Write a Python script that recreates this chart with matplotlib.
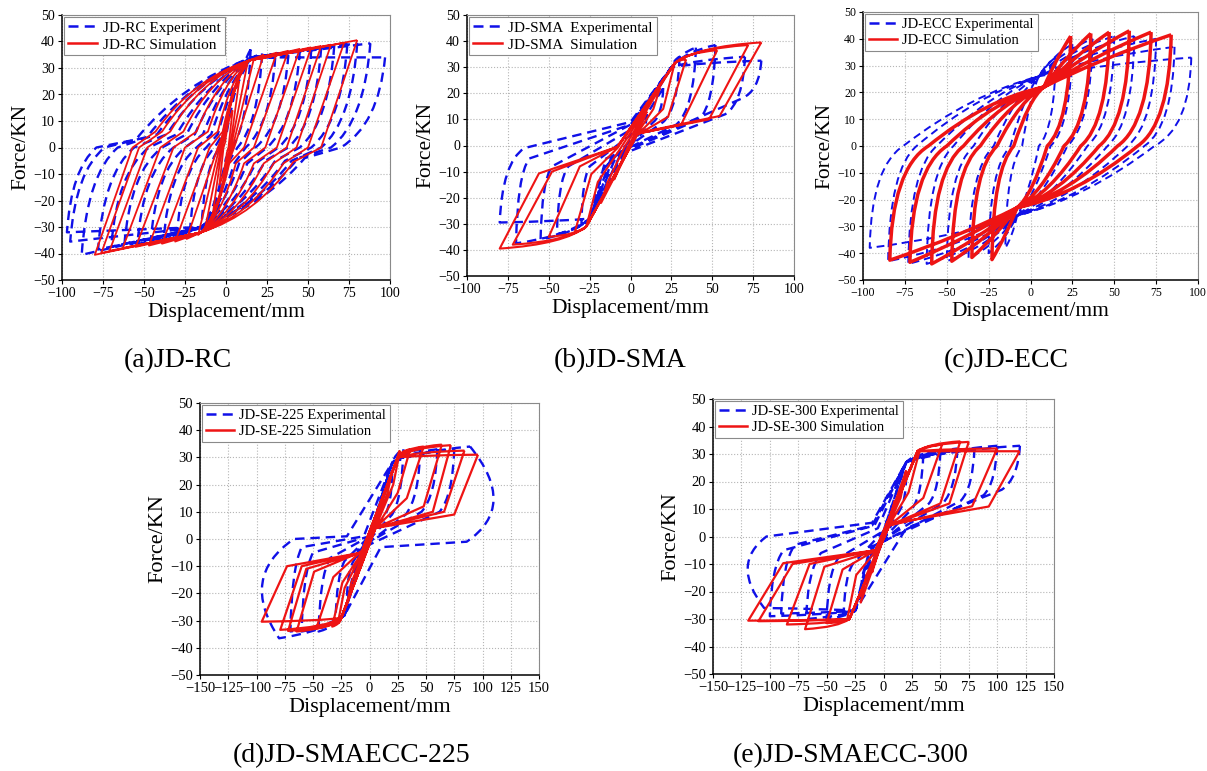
import numpy as np
import matplotlib
matplotlib.use("Agg")
import matplotlib.pyplot as plt
from matplotlib.path import Path
from matplotlib.patches import PathPatch
from matplotlib.lines import Line2D

plt.rcParams['font.family'] = ['Liberation Serif', 'DejaVu Serif']

# Each cycle half: (peak disp, peak force, unload end x, y, pinch knee x, y[, tip ctrl x, y])
# (a) JD-RC
A_EXP_POS = [(15, 37, 4, 0, 0, -4), (22, 35.5, 7, 0, 2, -5), (30, 34, 12, 0, 5, -6),
             (38, 35, 18, 0, 8, -6), (45, 36.5, 25, 0, 13, -6), (52, 37, 32, 0, 18, -6),
             (58, 37.5, 38, 0, 24, -5), (66, 38.5, 45, 0, 30, -5), (74, 39, 52, 0, 36, -5),
             (80, 39.3, 58, 0, 40, -5), (88, 39.3, 64, 0, 44, -4), (97, 34, 70, 0, 48, -4)]
A_EXP_NEG = [(-15, -31, -4, 0, 0, 4), (-22, -32, -7, 0, -2, 5), (-30, -33.5, -12, 0, -5, 5),
             (-38, -35, -18, 0, -9, 5), (-46, -36, -25, 0, -14, 5), (-54, -36.5, -32, 0, -19, 5),
             (-62, -37, -39, 0, -24, 5), (-70, -37.5, -47, 0, -30, 5), (-78, -38.5, -56, 0, -36, 5),
             (-88, -40.5, -66, 0, -42, 5), (-95, -35.5, -74, 0, -48, 4), (-97, -32, -79, 0, -55, 3)]
A_EXP_JOIN = ((16, 34), (-15, -30))
A_SIM_POS = [(4, 14, 1.5, 0, 0.5, -2), (8, 25, 2.5, 0, 1, -4), (13, 31.5, 3, 0, 1, -6),
             (17, 33.5, 4, 0, 1, -7), (23, 35, 5, 0, 0, -8), (31, 35.8, 11, 0, 2, -6),
             (38, 36.5, 17, 0, 6, -6), (45, 37.2, 24, 0, 11, -6), (52, 37.8, 31, 0, 17, -6),
             (58, 38.3, 37, 0, 23, -6), (64, 38.8, 43, 0, 29, -6), (72, 39.5, 50, 0, 35, -6),
             (80, 40.5, 58, 0, 41, -5.5)]
A_SIM_NEG = [(-4, -14, -1.5, 0, -0.5, 2), (-8, -25, -2.5, 0, -1, 4), (-13, -31.5, -3, 0, -1, 6),
             (-17, -33, -4, 0, -1, 7), (-24, -34.5, -5, 0, 0, 8), (-31, -35.5, -10, 0, -2, 6),
             (-39, -36.3, -17, 0, -5, 6), (-47, -37, -25, 0, -11, 6), (-55, -37.5, -32, 0, -18, 6),
             (-63, -38, -40, 0, -26, 6), (-71, -39, -48, 0, -34, 6), (-76, -39.8, -53, 0, -39, 6),
             (-80, -40.5, -57, 0, -43, 6)]
A_SIM_JOIN = ((14, 32.8), (-15, -32))

# (b) JD-SMA
B_EXP_POS = [(10, 12, 7, 6, 0, 0), (20, 22, 14, 9, -2, -1), (30, 34, 20, 9, -5, -2),
             (40, 37.5, 28, 8, -8, -3), (52, 38.5, 42, 10, -10, -4), (70, 34, 58, 12, -12, -5),
             (80, 32.5, 68, 18, -15, -5)]
B_EXP_NEG = [(-10, -12, -7, -6, 0, 0), (-20, -22, -15, -8, 0, 2), (-30, -30, -25, -8, 0, 4),
             (-45, -34, -38, -8, 0, 6), (-55, -36, -48, -8, 0, 8), (-70, -37.5, -62, -5, 0, 8),
             (-80, -29.5, -65, -1, 0, 9)]
B_EXP_JOIN = ((25, 30), (-25, -28))
B_SIM_POS = [(10, 13, 8, 10, 2, 3), (18, 22, 14, 14, 3, 3.5), (27, 31.5, 20, 14, 4, 4),
             (34, 33, 23, 11, 4, 4), (53, 36.5, 31, 8, 4, 4.5), (72, 38.5, 48, 10, 4, 4.5),
             (80, 39.5, 54.5, 11.3, 4, 4.7)]
B_SIM_NEG = [(-10, -13, -8, -10, -2, -1), (-18, -22, -14, -14, -4, -1), (-27, -31, -20, -14, -6, -1),
             (-34, -33, -24, -11, -8, -1), (-50, -35, -31, -8, -8, -0.5), (-72, -38, -48, -10, -8, -0.5),
             (-80, -39.5, -56, -10.7, -8, -0.5)]
B_SIM_JOIN = ((27, 31.5), (-27, -31))

# (c) JD-ECC
C_EXP_POS = [(15, 33, 5, 0, 5, 0), (25, 38, 12, 0, 12, 0), (37, 40, 22, 0, 22, 0),
             (50, 41, 34, 0, 34, 0), (62, 41, 46, 0, 46, 0), (75, 40, 58, 0, 58, 0),
             (86, 37, 68, 0, 68, 0), (96, 33, 74, 0, 74, 0)]
C_EXP_NEG = [(-15, -38, -5, 0, -5, 0), (-25, -40, -12, 0, -12, 0), (-37, -42, -22, 0, -22, 0),
             (-50, -43, -34, 0, -34, 0), (-62, -44, -46, 0, -46, 0), (-73, -44, -56, 0, -56, 0),
             (-85, -43, -68, 0, -68, 0), (-96, -38, -76, 0, -76, 0)]
C_EXP_JOIN = ((5, 26), (-8, -26))
C_SIM_POS = [(24, 41, 10, 0, 10, 0), (36, 42, 20, 0, 20, 0), (47, 42.5, 30, 0, 30, 0),
             (59, 43, 41, 0, 41, 0), (72, 42.5, 52, 0, 52, 0), (84, 41.5, 64, 0, 64, 0)]
C_SIM_NEG = [(-23, -42.4, -10, 0, -10, 0), (-35, -41.6, -20, 0, -20, 0), (-47, -43, -30, 0, -30, 0),
             (-59, -44, -40, 0, -40, 0), (-72, -43.4, -50, 0, -50, 0), (-84, -42.6, -61, 0, -61, 0)]
C_SIM_JOIN = ((8, 22), (-8, -23))

# (d) JD-SMAECC-225
D_EXP_POS = [(10, 12, 7, 6, 0, 0), (20, 24, 14, 9, -2, -1), (30, 33, 20, 9, -4, -2),
             (45, 33, 32, 9, -6, -3), (60, 33, 46, 10, -8, -3), (75, 33, 62, 10, -10, -4),
             (89, 34, 86, -1, 10, -3, 132, 12)]
D_EXP_NEG = [(-10, -12, -7, -6, 0, 0), (-20, -22, -14, -8, 0, 1), (-30, -30, -22, -8, 0, 1),
             (-45, -34, -35, -7, 0, 1), (-60, -34, -50, -5, 0, 1), (-70, -34, -60, -3, -5, 1),
             (-80, -36.5, -67, 0, -20, 1, -116, -14)]
D_EXP_JOIN = ((20, 28), (-22, -28))
D_SIM_POS = [(12, 15, 10, 11, 2, 3), (20, 25, 16, 17, 3, 3), (27, 32.5, 21, 20, 4, 3),
             (36, 33, 25, 17, 5, 3.5), (48, 34, 33, 15, 5, 4), (64, 34.7, 48, 12, 5, 4),
             (72, 34.5, 56, 10, 5, 4), (84, 32.5, 66, 10, 5, 4), (96, 31, 75, 9, 5, 4)]
D_SIM_NEG = [(-12, -15, -10, -11, -2, -3), (-20, -24, -16, -16, -3, -3), (-28, -31, -22, -18, -4, -3),
             (-33, -32.2, -24, -16, -5, -4), (-47, -32.8, -32, -14, -6, -4), (-64.5, -34, -49, -12, -6, -4.5),
             (-72, -33.8, -56, -11, -7, -5), (-79, -33.4, -60, -10, -7, -5), (-95.4, -30.4, -73, -10, -7, -5)]
D_SIM_JOIN = ((25, 30), (-25, -29))

# (e) JD-SMAECC-300
E_EXP_POS = [(10, 12, 7, 7, 0, 0), (20, 22, 15, 10, 0, -1), (35, 30, 25, 10, -3, -2),
             (50, 31, 40, 12, -5, -3), (65, 32, 52, 12, -8, -3), (80, 32, 68, 13, -10, -4),
             (100, 33, 88, 15, -12, -4), (120, 33, 104, 17, 20, 3)]
E_EXP_NEG = [(-10, -12, -7, -7, 0, 0), (-20, -22, -15, -10, 0, 1), (-35, -28, -27, -10, 0, 2),
             (-50, -30, -40, -8, 0, 2), (-68, -30, -55, -6, -5, 3), (-90, -28, -78, -3, -10, 4),
             (-100, -29, -88, -5, -8, 4), (-105, -26, -103, 0, -10, 5, -135, -10)]
E_EXP_JOIN = ((20, 27), (-25, -27))
E_SIM_POS = [(10, 13, 8, 9, 2, 3), (20, 24, 15, 14, 3, 3), (32, 31.6, 22, 16, 4, 3.5),
             (51.5, 33.4, 35, 14, 5, 4), (67.6, 34.6, 50, 12, 5, 4), (75, 34.4, 58, 12, 5, 4),
             (100, 32, 78, 11, 5, 4), (119.7, 31, 92.6, 10.9, 5, 4.5)]
E_SIM_NEG = [(-10, -13, -8, -9, -2, -3), (-20, -24, -15, -14, -3, -3), (-32, -30.3, -24, -14, -4, -4),
             (-50, -31.5, -36, -12, -5, -4.5), (-69, -33.7, -52, -11, -6, -5), (-85, -32, -65, -10, -7, -5),
             (-110, -30.8, -80, -10, -7, -5), (-119, -30.6, -88.2, -9.7, -7, -5)]
E_SIM_JOIN = ((30, 31), (-30, -30))

NAMES = ['JD-RC', 'JD-SMA', 'JD-ECC', 'JD-SE-225', 'JD-SE-300']
EXP_WORD = [' Experiment', '  Experimental', ' Experimental', ' Experimental', ' Experimental']
SIM_WORD = [' Simulation', '  Simulation', ' Simulation', ' Simulation', ' Simulation']
CAPTIONS = ['(a)JD-RC', '(b)JD-SMA', '(c)JD-ECC', '(d)JD-SMAECC-225', '(e)JD-SMAECC-300']

BLUE = '#1010e8'
RED = '#ee1414'
W, H = 1207, 771


def ctrl(p, q, bow):
    return (p[0] * bow[0] + q[0] * (1 - bow[0]), p[1] * bow[1] + q[1] * (1 - bow[1]))


def add_half(verts, codes, row, join, target, bows):
    peak = (row[0], row[1])
    unl = (row[2], row[3])
    knee = (row[4], row[5])
    tip = (row[6], row[7]) if len(row) > 6 else ctrl(peak, unl, bows[0])
    verts += [tip, unl]
    codes += [Path.CURVE3, Path.CURVE3]
    verts.append(knee)
    codes.append(Path.LINETO)
    if abs(target[0]) > abs(join[0]):
        verts += [ctrl(knee, join, bows[1]), join, ctrl(join, target, bows[2]), target]
        codes += [Path.CURVE3] * 4
    else:
        verts += [ctrl(knee, target, bows[1]), target]
        codes += [Path.CURVE3] * 2


def loop_path(pos, neg, joins, bows):
    jp, jn = joins
    verts, codes = [], []
    for p_row, n_row in zip(pos, neg):
        peak = (p_row[0], p_row[1])
        verts.append(peak)
        codes.append(Path.MOVETO)
        add_half(verts, codes, p_row, jn, (n_row[0], n_row[1]), bows)
        add_half(verts, codes, n_row, jp, peak, bows)
    return Path(verts, codes)


STRAIGHT = (0.5, 0.5)
panels = [
    dict(rect=(62, 15, 390, 280), xmax=100, tfs=10, lfs=15.5, gfs=11,
         exp=(A_EXP_POS, A_EXP_NEG, A_EXP_JOIN, ((0.85, 0.25), (0.6, 0.3), STRAIGHT)),
         sim=(A_SIM_POS, A_SIM_NEG, A_SIM_JOIN, (STRAIGHT, (0.6, 0.25), STRAIGHT)),
         elw=1.7, slw=1.3, cap=(178, 361)),
    dict(rect=(467, 15, 794, 276), xmax=100, tfs=10, lfs=15.5, gfs=11,
         exp=(B_EXP_POS, B_EXP_NEG, B_EXP_JOIN, ((0.9, 0.2), STRAIGHT, (0.7, 0.3))),
         sim=(B_SIM_POS, B_SIM_NEG, B_SIM_JOIN, (STRAIGHT, STRAIGHT, (0.75, 0.2))),
         elw=1.7, slw=1.5, cap=(620, 361)),
    dict(rect=(863, 12, 1198, 280), xmax=100, tfs=8.5, lfs=15.5, gfs=10.5,
         exp=(C_EXP_POS, C_EXP_NEG, C_EXP_JOIN, ((0.95, 0.2), (0.5, 0.25), (0.6, 0.35))),
         sim=(C_SIM_POS, C_SIM_NEG, C_SIM_JOIN, ((0.95, 0.2), (0.5, 0.2), (0.55, 0.45))),
         elw=1.4, slw=2.5, cap=(1006, 361)),
    dict(rect=(200, 403, 539, 675), xmax=150, tfs=10.5, lfs=16, gfs=10.5,
         exp=(D_EXP_POS, D_EXP_NEG, D_EXP_JOIN, ((0.9, 0.25), STRAIGHT, (0.7, 0.3))),
         sim=(D_SIM_POS, D_SIM_NEG, D_SIM_JOIN, (STRAIGHT, STRAIGHT, (0.75, 0.2))),
         elw=1.7, slw=1.6, cap=(352, 756)),
    dict(rect=(713, 399, 1054, 674), xmax=150, tfs=10.5, lfs=16, gfs=10.5,
         exp=(E_EXP_POS, E_EXP_NEG, E_EXP_JOIN, ((0.9, 0.25), STRAIGHT, (0.7, 0.3))),
         sim=(E_SIM_POS, E_SIM_NEG, E_SIM_JOIN, (STRAIGHT, STRAIGHT, (0.75, 0.2))),
         elw=1.7, slw=1.6, cap=(851, 756)),
]

fig = plt.figure(figsize=(W / 100, H / 100), dpi=100)

for i, p in enumerate(panels):
    l, t, r, b = p['rect']
    ax = fig.add_axes([l / W, 1 - b / H, (r - l) / W, (b - t) / H])
    ax.set_xlim(-p['xmax'], p['xmax'])
    ax.set_ylim(-50, 50)
    ax.set_xticks(np.arange(-p['xmax'], p['xmax'] + 1, 25))
    ax.set_yticks(np.arange(-50, 51, 10))
    ax.grid(True, ls=':', color='#b5b5b5', lw=0.8)
    ax.set_axisbelow(True)
    ax.tick_params(direction='out', length=3, width=0.8, labelsize=p['tfs'], pad=2)
    for s in ['top', 'right']:
        ax.spines[s].set_color('#8a8a8a')
    for s in ['left', 'bottom']:
        ax.spines[s].set_linewidth(1.1)

    ax.add_patch(PathPatch(loop_path(*p['exp']), fill=False, edgecolor=BLUE,
                           lw=p['elw'], linestyle=(0, (4, 2.5)), joinstyle='round'))
    ax.add_patch(PathPatch(loop_path(*p['sim']), fill=False, edgecolor=RED,
                           lw=p['slw'], joinstyle='round'))

    ax.set_xlabel('Displacement/mm', fontsize=p['lfs'], labelpad=2)
    ax.set_ylabel('Force/KN', fontsize=p['lfs'], labelpad=2)

    handles = [Line2D([], [], color=BLUE, lw=1.8, linestyle=(0, (4, 2.5))),
               Line2D([], [], color=RED, lw=1.8)]
    leg = ax.legend(handles, [NAMES[i] + EXP_WORD[i], NAMES[i] + SIM_WORD[i]],
                    loc='upper left', fontsize=p['gfs'], fancybox=False, framealpha=1,
                    edgecolor='#8a8a8a', borderaxespad=0.15, borderpad=0.25,
                    labelspacing=0.2, handlelength=1.9, handletextpad=0.4)
    leg.get_frame().set_linewidth(0.8)

    fig.text(p['cap'][0] / W, 1 - p['cap'][1] / H, CAPTIONS[i], ha='center', va='center',
             fontsize=20)

fig.savefig('out.png', dpi=100)
